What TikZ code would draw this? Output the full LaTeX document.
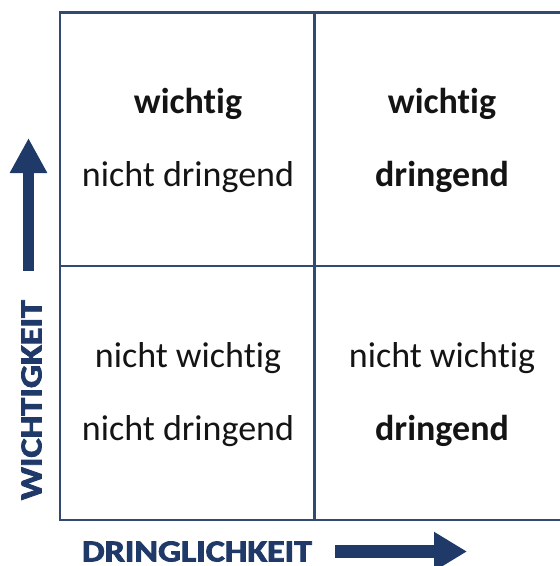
\documentclass[tikz,border=0pt]{standalone}
\usepackage{fontspec}
\setmainfont{Carlito}[Ligatures={NoCommon,NoContextual},RawFeature={-liga;-clig;-dlig}]
\newfontfamily\capsfont{Carlito Bold}[FakeBold=2.5,RawFeature={-liga;-clig;-dlig}]
\usetikzlibrary{arrows.meta}
\definecolor{navy}{RGB}{31,58,104}
\definecolor{gridc}{RGB}{50,74,112}
\begin{document}
\begin{tikzpicture}[x=1pt,y=-1pt,
  gridline/.style={draw=gridc,line width=2.6pt},
  celltext/.style={anchor=base,inner sep=0pt,font=\fontsize{36}{42}\selectfont,text=black!92},
  axisarrow/.style={draw=navy,line cap=butt},
  axistext/.style={inner sep=0pt,anchor=center,text=navy,font=\capsfont}]
\useasboundingbox (0,0) rectangle (560,566);
\clip (0,0) rectangle (560,566);
% grid
\coordinate (tl) at (60,12.5);
\coordinate (br) at (569,520);
\coordinate (mt) at (314.5,12.5);
\coordinate (mb) at (314.5,520);
\coordinate (ml) at (60,266);
\coordinate (mr) at (569,266);
\draw[gridline] (tl) rectangle (br);
\draw[gridline] (mt) -- (mb);
\draw[gridline] (ml) -- (mr);
% cell texts
\node[celltext] (a1) at (188,113) {\textbf{wichtig}};
\node[celltext] (a2) at (188,186) {nicht dringend};
\node[celltext] (b1) at (442,113) {\textbf{wichtig}};
\node[celltext] (b2) at (442,186) {\textbf{dringend}};
\node[celltext] (c1) at (188,367) {nicht wichtig};
\node[celltext] (c2) at (188,440) {nicht dringend};
\node[celltext] (d1) at (442,367) {nicht wichtig};
\node[celltext] (d2) at (442,440) {\textbf{dringend}};
% axes
\coordinate (v0) at (28.5,271);
\coordinate (v1) at (28.5,138);
\draw[axisarrow,line width=11pt,-{Triangle[width=35pt,length=35pt]}] (v0) -- (v1);
\coordinate (h0) at (335,551.5);
\coordinate (h1) at (467,551.5);
\draw[axisarrow,line width=12.5pt,-{Triangle[width=37pt,length=33pt]}] (h0) -- (h1);
\node[axistext] (xl) at (197,551.5)
  {\resizebox{230pt}{20pt}{DRINGLICHKEIT}};
\node[axistext,rotate=90] (yl) at (31.5,400)
  {\resizebox{200pt}{20pt}{WICHTIGKEIT}};
\end{tikzpicture}
\end{document}
